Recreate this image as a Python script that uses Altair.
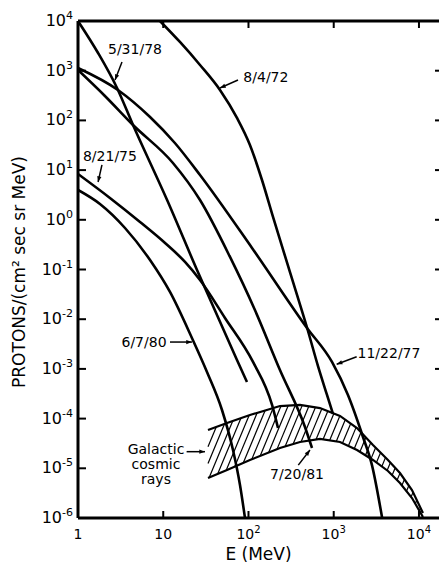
import math

import altair as alt
import numpy as np
import pandas as pd

FONT = "DejaVu Sans"

# Plot area size (pixels) and axis ranges
W, H = 361, 497
E_MIN, E_MAX = 1.0, 10 ** 4.235
F_MIN, F_MAX = 1e-6, 1e4

# Tick values with their labels written as base + exponent
x_ticks = [1, 10, 100, 1000, 10000]
x_tick_base = ["1", "10", "10", "10", "10"]
x_tick_exp = ["", "", "2", "3", "4"]
y_ticks = [1e-6, 1e-5, 1e-4, 1e-3, 1e-2, 1e-1, 1, 10, 100, 1000, 10000]
y_tick_base = ["10"] * 11
y_tick_exp = ["-6", "-5", "-4", "-3", "-2", "-1", "0", "1", "2", "3", "4"]
x_title = "E (MeV)"
y_title = "PROTONS/(cm² sec sr MeV)"

# Solar proton event spectra: energy (MeV) and differential flux
e_8_4_72 = [9.16, 15.7, 27.0, 46.3, 73.3, 104, 144, 194, 268, 371, 499, 654, 834, 980]
f_8_4_72 = [1.0e4, 3780, 1303, 409, 112, 32.0, 6.32, 1.14, 0.187, 0.0307,
            5.79e-3, 1.14e-3, 2.99e-4, 1.24e-4]

e_5_31_78 = [1.0, 1.72, 2.87, 4.42, 11.1, 24.9, 73.3, 96.0]
f_5_31_78 = [1.0e4, 2270, 449, 80.7, 2.50, 0.0977, 1.51e-3, 5.45e-4]

e_11_22_77 = [1.0, 2.94, 7.0, 13.7, 27.0, 110, 486, 954, 1469, 2204, 2809, 3700]
f_11_22_77 = [1133, 409, 117, 35.1, 7.97, 0.271, 6.65e-3, 1.38e-3, 2.98e-4,
              4.27e-5, 1.16e-5, 1.0e-6]

e_7_20_81 = [1.0, 2.07, 4.42, 13.0, 27.0, 60.7, 119, 234, 460, 556]
f_7_20_81 = [1032, 310, 80.7, 13.9, 2.50, 0.179, 0.0153, 9.5e-4, 6.78e-5, 2.56e-5]

e_8_21_75 = [1.0, 2.37, 5.34, 10.5, 18.0, 27.0, 53.0, 113, 189, 222]
f_8_21_75 = [8.35, 2.75, 0.903, 0.341, 0.142, 0.0615, 0.0106, 1.38e-3, 1.88e-4, 6.47e-5]

e_6_7_80 = [1.0, 1.81, 3.56, 7.0, 12.0, 21.7, 32.6, 48.9, 65.8, 79.5, 91.0]
f_6_7_80 = [3.98, 2.08, 0.684, 0.155, 0.0353, 4.19e-3, 8.67e-4, 1.49e-4,
            2.33e-5, 4.61e-6, 1.0e-6]

# Galactic cosmic ray band: energy with upper and lower flux bounds
gcr_e = [33.5, 56.0, 104, 234, 402, 690, 1184, 1875, 2886, 4325, 5985, 8280, 11140]
gcr_hi = [5.90e-5, 8.15e-5, 1.18e-4, 1.79e-4, 1.88e-4, 1.63e-4, 1.13e-4,
          6.47e-5, 2.94e-5, 1.47e-5, 8.04e-6, 3.66e-6, 1.26e-6]
gcr_lo = [6.38e-6, 9.24e-6, 1.47e-5, 2.56e-5, 3.38e-5, 3.89e-5, 3.38e-5,
          2.33e-5, 1.47e-5, 8.83e-6, 5.06e-6, 2.52e-6, 1.05e-6]

# Annotations: label anchor, arrow tail and arrow head (E, flux)
labels = ["5/31/78", "8/4/72", "8/21/75", "6/7/80", "11/22/77",
          "Galactic\ncosmic\nrays", "7/20/81"]
label_e = [4.66, 160, 2.37, 5.95, 4450, 8.22, 371]
label_f = [2610, 713, 18.4, 3.32e-3, 2.0e-3, 2.33e-5, 7.33e-6]
tail_e = [3.28, 75.3, 1.91, 12.0, 1858, 18.8, 384]
tail_f = [1496, 650, 12.7, 3.47e-3, 1.76e-3, 2.16e-5, 1.16e-5]
head_e = [2.72, 46.3, 1.72, 21.7, 1083, 30.9, 526]
head_f = [650, 449, 5.77, 3.47e-3, 1.24e-3, 2.16e-5, 2.33e-5]

events = {
    "8/4/72": (e_8_4_72, f_8_4_72),
    "5/31/78": (e_5_31_78, f_5_31_78),
    "11/22/77": (e_11_22_77, f_11_22_77),
    "7/20/81": (e_7_20_81, f_7_20_81),
    "8/21/75": (e_8_21_75, f_8_21_75),
    "6/7/80": (e_6_7_80, f_6_7_80),
}

curve_df = pd.DataFrame(
    [{"event": k, "E": e, "F": f} for k, (es, fs) in events.items() for e, f in zip(es, fs)]
)

band_df = pd.DataFrame(
    [{"edge": "upper", "E": e, "F": f} for e, f in zip(gcr_e, gcr_hi)]
    + [{"edge": "lower", "E": e, "F": f} for e, f in zip(gcr_e, gcr_lo)]
)

LOG_E_SPAN = math.log10(E_MAX / E_MIN)
LOG_F_SPAN = math.log10(F_MAX / F_MIN)


def to_px(e, f):
    x = W * np.log10(np.asarray(e) / E_MIN) / LOG_E_SPAN
    y = H * (math.log10(F_MAX) - np.log10(np.asarray(f))) / LOG_F_SPAN
    return x, y


def from_px(x, y):
    e = E_MIN * 10 ** (np.asarray(x) * LOG_E_SPAN / W)
    f = F_MAX * 10 ** (-np.asarray(y) * LOG_F_SPAN / H)
    return e, f


# Diagonal hatching clipped between the band edges
HATCH_SLOPE = 2.4   # screen rise per unit run
HATCH_STEP = 7.0    # horizontal spacing in pixels
bx_hi, by_hi = to_px(gcr_e, gcr_hi)
_, by_lo = to_px(gcr_e, gcr_lo)
gx = np.linspace(bx_hi[0], bx_hi[-1], 3000)
uy = np.interp(gx, bx_hi, by_hi)
ly = np.interp(gx, bx_hi, by_lo)
c_vals = np.arange((uy + HATCH_SLOPE * gx).min(), (ly + HATCH_SLOPE * gx).max(),
                   HATCH_SLOPE * HATCH_STEP)
hatch_rows = []
for c in c_vals:
    yl = c - HATCH_SLOPE * gx
    idx = np.where((yl >= uy) & (yl <= ly))[0]
    if len(idx) < 2:
        continue
    i0, i1 = idx[0], idx[-1]
    e0, f0 = from_px(gx[i0], yl[i0])
    e1, f1 = from_px(gx[i1], yl[i1])
    hatch_rows.append({"E": float(e0), "F": float(f0), "E2": float(e1), "F2": float(f1)})
hatch_df = pd.DataFrame(hatch_rows)

# Arrowheads rotated along each arrow
tx, ty = to_px(tail_e, tail_f)
hx, hy = to_px(head_e, head_f)
angles = [(math.degrees(math.atan2(hx[i] - tx[i], -(hy[i] - ty[i]))) + 360) % 360
          for i in range(len(labels))]
ann_df = pd.DataFrame({
    "label": labels, "LE": label_e, "LF": label_f,
    "TE": tail_e, "TF": tail_f, "HE": head_e, "HF": head_f, "ang": angles,
})

x_scale = alt.Scale(type="log", domain=[E_MIN, E_MAX], nice=False)
y_scale = alt.Scale(type="log", domain=[F_MIN, F_MAX], nice=False)


def xq(field):
    return alt.X(field, type="quantitative", scale=x_scale, axis=None)


def yq(field):
    return alt.Y(field, type="quantitative", scale=y_scale, axis=None)


def text_width(s, size):
    # approximate advance widths of DejaVu Sans glyphs (em units)
    em = {"-": 0.361}
    return sum(em.get(ch, 0.636) for ch in s) * size


curves = alt.Chart(curve_df).mark_line(
    color="black", strokeWidth=2.6, interpolate="monotone", clip=True
).encode(x=xq("E"), y=yq("F"), detail="event:N")

band = alt.Chart(band_df).mark_line(color="black", strokeWidth=2.2, clip=True).encode(
    x=xq("E"), y=yq("F"), detail="edge:N")

hatch = alt.Chart(hatch_df).mark_rule(color="black", strokeWidth=1.2).encode(
    x=xq("E"), x2="E2:Q", y=yq("F"), y2="F2:Q")

one_df = pd.DataFrame({"k": [0]})
tick_x_df = pd.DataFrame({"E": x_ticks[1:]})
tick_y_df = pd.DataFrame({"F": y_ticks})

# Frame: left, bottom and top borders
frame_left = alt.Chart(one_df).mark_rule(color="black", strokeWidth=3).encode(
    x=alt.value(0), y=alt.value(0), y2=alt.value(H))
frame_bottom = alt.Chart(one_df).mark_rule(color="black", strokeWidth=3).encode(
    x=alt.value(0), x2=alt.value(W), y=alt.value(H))
frame_top = alt.Chart(one_df).mark_rule(color="black", strokeWidth=3).encode(
    x=alt.value(0), x2=alt.value(W), y=alt.value(0))

# Inward ticks on all sides
ticks_bottom = alt.Chart(tick_x_df).mark_rule(color="black", strokeWidth=2).encode(
    x=xq("E"), y=alt.value(H - 7), y2=alt.value(H))
ticks_top = alt.Chart(tick_x_df).mark_rule(color="black", strokeWidth=2).encode(
    x=xq("E"), y=alt.value(0), y2=alt.value(7))
ticks_left = alt.Chart(tick_y_df).mark_rule(color="black", strokeWidth=2).encode(
    y=yq("F"), x=alt.value(0), x2=alt.value(8))
ticks_right = alt.Chart(tick_y_df).mark_rule(color="black", strokeWidth=2).encode(
    y=yq("F"), x=alt.value(W - 4), x2=alt.value(W))

# Tick labels: "10" with a raised exponent, grouped by exponent width
Y_BASE, Y_EXP = 16, 11
X_BASE, X_EXP = 14, 10
label_layers = []

ylab_df = pd.DataFrame({"F": y_ticks, "base": y_tick_base, "exp": y_tick_exp})
ylab_df["w"] = [text_width(s, Y_EXP) for s in y_tick_exp]
for w, grp in ylab_df.groupby("w"):
    xr = -5 - w
    label_layers.append(alt.Chart(grp).mark_text(
        font=FONT, fontSize=Y_BASE, color="black", align="right", baseline="middle"
    ).encode(y=yq("F"), x=alt.value(xr), text="base:N"))
    label_layers.append(alt.Chart(grp).mark_text(
        font=FONT, fontSize=Y_EXP, color="black", align="left", baseline="middle", dy=-5
    ).encode(y=yq("F"), x=alt.value(xr), text="exp:N"))

xlab_df = pd.DataFrame({"E": x_ticks, "base": x_tick_base, "exp": x_tick_exp})
xlab_df["w"] = [text_width(s, X_EXP) for s in x_tick_exp]
for w, grp in xlab_df.groupby("w"):
    if w == 0:
        label_layers.append(alt.Chart(grp).mark_text(
            font=FONT, fontSize=X_BASE, color="black", align="center", baseline="middle"
        ).encode(x=xq("E"), y=alt.value(H + 17), text="base:N"))
    else:
        total = text_width("10", X_BASE) + w
        shift = total / 2 - w
        label_layers.append(alt.Chart(grp).mark_text(
            font=FONT, fontSize=X_BASE, color="black", align="right", baseline="middle",
            dx=shift,
        ).encode(x=xq("E"), y=alt.value(H + 17), text="base:N"))
        label_layers.append(alt.Chart(grp).mark_text(
            font=FONT, fontSize=X_EXP, color="black", align="left", baseline="middle",
            dx=shift, dy=-5,
        ).encode(x=xq("E"), y=alt.value(H + 17), text="exp:N"))

x_title_mark = alt.Chart(pd.DataFrame({"t": [x_title]})).mark_text(
    font=FONT, fontSize=17, color="black", align="center", baseline="middle"
).encode(x=alt.value(W / 2), y=alt.value(H + 37), text="t:N")
y_title_mark = alt.Chart(pd.DataFrame({"t": [y_title]})).mark_text(
    font=FONT, fontSize=17, color="black", align="center", baseline="middle", angle=270
).encode(x=alt.value(-58), y=alt.value(251), text="t:N")

texts = alt.Chart(ann_df).mark_text(
    font=FONT, fontSize=14, color="black", align="center", baseline="middle",
    lineBreak="\n", lineHeight=15,
).encode(x=xq("LE"), y=yq("LF"), text="label:N")

arrows = alt.Chart(ann_df).mark_rule(color="black", strokeWidth=1.5).encode(
    x=xq("TE"), x2="HE:Q", y=yq("TF"), y2="HF:Q")

heads = alt.Chart(ann_df).mark_point(
    shape="M0,0L0.38,1L-0.38,1Z", filled=True, color="black", opacity=1,
    size=130, strokeWidth=0,
).encode(x=xq("HE"), y=yq("HF"), angle=alt.Angle("ang:Q", scale=None))

chart = alt.layer(
    curves, band, hatch,
    frame_left, frame_bottom, frame_top,
    ticks_bottom, ticks_top, ticks_left, ticks_right,
    *label_layers, x_title_mark, y_title_mark,
    arrows, heads, texts,
).properties(
    width=W, height=H,
    autosize=alt.AutoSizeParams(type="none"),
    padding={"left": 78, "top": 21, "right": 0, "bottom": 57},
    background="white",
).configure_view(stroke=None).configure(font=FONT)

chart.save("out.html", embed_options={"renderer": "svg", "actions": False})
